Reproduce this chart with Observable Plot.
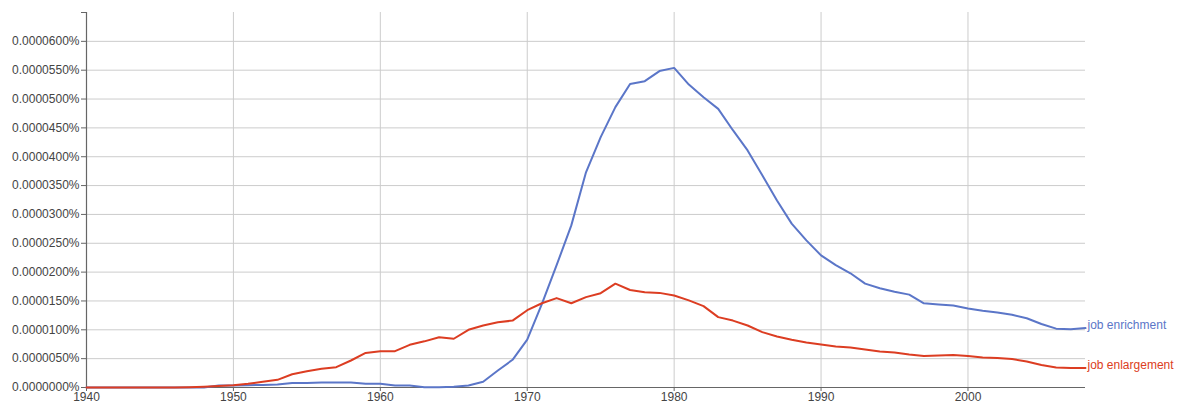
<!DOCTYPE html>
<html>
<head>
<meta charset="utf-8">
<script src="https://cdn.jsdelivr.net/npm/d3@7"></script>
<script src="https://cdn.jsdelivr.net/npm/@observablehq/plot@0.6"></script>
<style>
  html, body { margin: 0; padding: 0; background: #fff; }
  #chart svg { display: block; }
</style>
</head>
<body>
<div id="chart"></div>
<script>
// Years 1940..2008; values in millionths of a percent (e.g. 55.4 -> 0.0000554%)
const years = d3.range(1940, 2009);
const seriesNames = ["job enrichment", "job enlargement"];
const seriesColors = ["#5b76c8", "#dc3d22"];
const enrichment = [
  0, 0, 0, 0, 0, 0, 0, 0, 0, 0.35,          // 1940-1949
  0.35, 0.4, 0.45, 0.5, 0.8, 0.8, 0.85, 0.85, 0.85, 0.65, // 1950-1959
  0.65, 0.35, 0.35, 0.05, 0.05, 0.15, 0.35, 1.0, 2.95, 4.8, // 1960-1969
  8.3, 14.5, 21.2, 28.1, 37.3, 43.4, 48.6, 52.6, 53.1, 54.85, // 1970-1979
  55.4, 52.5, 50.3, 48.3, 44.6, 41.1, 36.8, 32.4, 28.4, 25.5, // 1980-1989
  22.9, 21.2, 19.8, 18.0, 17.2, 16.6, 16.1, 14.6, 14.4, 14.2, // 1990-1999
  13.7, 13.3, 13.0, 12.6, 12.0, 11.0, 10.2, 10.1, 10.3       // 2000-2008
];
const enlargement = [
  0, 0, 0, 0, 0, 0, 0, 0.05, 0.15, 0.25,    // 1940-1949
  0.4, 0.65, 1.0, 1.33, 2.3, 2.8, 3.24, 3.53, 4.68, 6.0, // 1950-1959
  6.3, 6.3, 7.4, 8.0, 8.7, 8.45, 10.0, 10.75, 11.3, 11.6, // 1960-1969
  13.4, 14.6, 15.5, 14.6, 15.66, 16.35, 18.0, 16.9, 16.5, 16.4, // 1970-1979
  15.95, 15.1, 14.1, 12.2, 11.6, 10.75, 9.6, 8.85, 8.27, 7.8, // 1980-1989
  7.46, 7.1, 6.94, 6.6, 6.24, 6.07, 5.72, 5.46, 5.55, 5.64, // 1990-1999
  5.46, 5.2, 5.1, 4.94, 4.5, 3.9, 3.47, 3.38, 3.4          // 2000-2008
];
const xTicks = [1940, 1950, 1960, 1970, 1980, 1990, 2000];
const yTicks = [0, 5, 10, 15, 20, 25, 30, 35, 40, 45, 50, 55, 60];

const rows = [];
[enrichment, enlargement].forEach((vals, i) => {
  vals.forEach((v, j) => rows.push({year: years[j], value: v, series: seriesNames[i]}));
});

const fmt = d => (d / 1e6).toFixed(7) + "%";
const font = "'Liberation Sans', Arial, sans-serif";

const chart = Plot.plot({
  width: 1177,
  height: 405,
  marginLeft: 86,
  marginRight: 92,
  marginTop: 12,
  marginBottom: 18,
  style: {fontFamily: font, fontSize: "12px", color: "#444", background: "#fff", overflow: "visible"},
  x: {domain: [1940, 2008]},
  y: {domain: [0, 65]},
  color: {domain: seriesNames, range: seriesColors},
  marks: [
    Plot.gridX(xTicks, {stroke: "#ccc", strokeOpacity: 1, strokeWidth: 1}),
    Plot.gridY(yTicks.slice(1), {stroke: "#ccc", strokeOpacity: 1, strokeWidth: 1}),
    Plot.ruleX([1940], {stroke: "#666", strokeWidth: 1.2}),
    Plot.ruleY([0], {stroke: "#666", strokeWidth: 1.2}),
    Plot.axisY([...yTicks, 65], {tickFormat: d => d === 65 ? "" : fmt(d), tickSize: 5, tickPadding: 2, stroke: "#666", fill: "#444", label: null, fontSize: 12}),
    Plot.axisX(xTicks, {tickFormat: d => String(d), tickSize: 4, tickPadding: 1, stroke: "#666", fill: "#444", label: null, fontSize: 12}),
    Plot.line(rows, {x: "year", y: "value", z: "series", stroke: "series", strokeWidth: 2, curve: "linear"}),
    Plot.text(rows, Plot.selectLast({x: "year", y: "value", z: "series", text: "series", fill: "series", textAnchor: "start", dx: 2, dy: -3, fontSize: 12}))
  ]
});
document.getElementById("chart").appendChild(chart);
</script>
</body>
</html>
